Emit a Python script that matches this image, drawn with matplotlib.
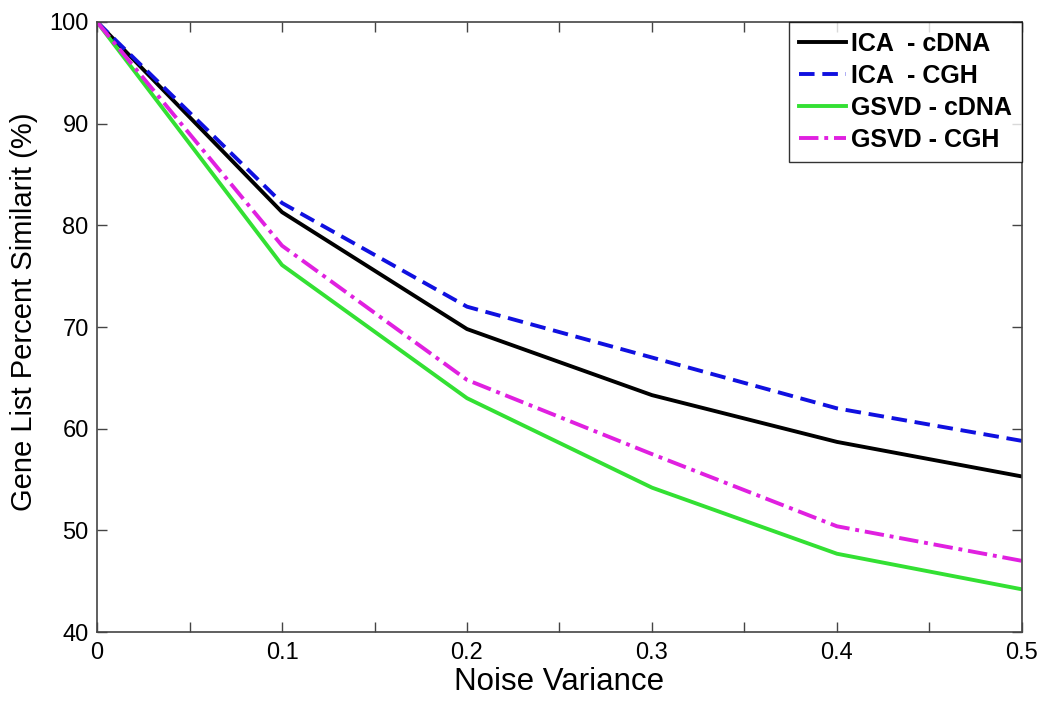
import matplotlib
matplotlib.use('Agg')
import matplotlib.pyplot as plt
from matplotlib.ticker import MultipleLocator, FuncFormatter

plt.rcParams['font.family'] = ['Liberation Sans', 'DejaVu Sans']

noise = [0, 0.1, 0.2, 0.3, 0.4, 0.5]
ica_cdna = [100, 81.3, 69.8, 63.3, 58.7, 55.3]
ica_cgh = [100, 82.2, 72.0, 67.0, 62.0, 58.8]
gsvd_cdna = [100, 76.1, 63.0, 54.2, 47.7, 44.2]
gsvd_cgh = [100, 78.0, 64.8, 57.5, 50.4, 47.0]

fig = plt.figure(figsize=(10.5, 7.05), dpi=100)
ax = fig.add_axes([0.0924, 0.1035, 0.8809, 0.8653])

ax.plot(noise, ica_cdna, color='black', lw=2.8, label='ICA  - cDNA')
ax.plot(noise, ica_cgh, color='#1010e0', lw=2.8, ls=(0, (4, 2)), label='ICA  - CGH')
ax.plot(noise, gsvd_cdna, color='#33e033', lw=2.8, label='GSVD - cDNA')
ax.plot(noise, gsvd_cgh, color='#e020e0', lw=2.8, ls=(0, (5, 1.5, 1, 1.5)), label='GSVD - CGH')

ax.set_xlim(0, 0.5)
ax.set_ylim(40, 100)
ax.xaxis.set_major_locator(MultipleLocator(0.1))
ax.xaxis.set_minor_locator(MultipleLocator(0.05))
ax.yaxis.set_major_locator(MultipleLocator(10))
ax.xaxis.set_major_formatter(FuncFormatter(lambda v, p: '0' if abs(v) < 1e-9 else f'{v:g}'))
ax.tick_params(which='both', direction='in', top=True, right=True, labelsize=17, color='#444444')
ax.tick_params(which='both', length=7, width=1)
ax.tick_params(axis='x', pad=7)
ax.tick_params(axis='y', pad=6)
for s in ax.spines.values():
    s.set_color('#444444')
    s.set_linewidth(1.2)

ax.set_xlabel('Noise Variance', fontsize=22.5, labelpad=2)
ax.set_ylabel('Gene List Percent Similarit (%)', fontsize=21)
ax.yaxis.set_label_coords(-0.064, 0.525)

leg = ax.legend(loc='upper right', borderaxespad=0, fancybox=False, edgecolor='black',
                prop={'weight': 'bold', 'size': 18}, handlelength=1.9, handletextpad=0.2,
                labelspacing=0.32, borderpad=0.4)
leg.get_frame().set_linewidth(1.0)

fig.savefig('out.png', dpi=100)
